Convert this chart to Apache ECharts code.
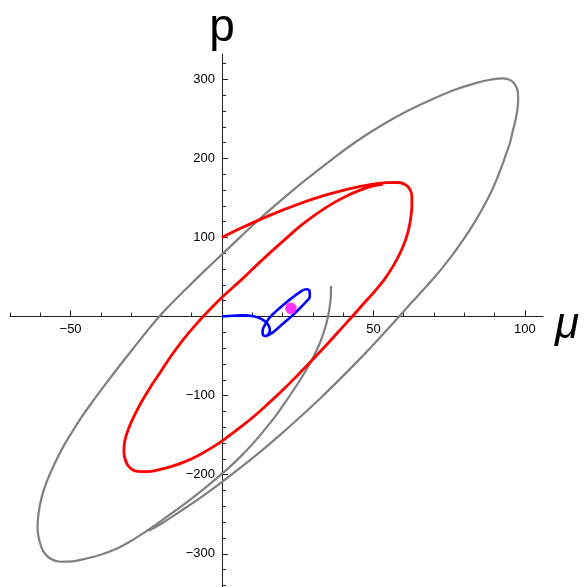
<!DOCTYPE html>
<html>
<head>
<meta charset="utf-8">
<script src="https://cdn.jsdelivr.net/npm/echarts@6/dist/echarts.min.js"></script>
<style>
  html, body { margin: 0; padding: 0; background: #fff; }
  #phaseChart { width: 584px; height: 587px; }
</style>
</head>
<body>
<div id="phaseChart"></div>
<script>
// axis ranges and tick positions / labels
const xMin = -70, xMax = 106;
const yMin = -342, yMax = 332;
const xMajor = [-50, 50, 100];
const xMinor = [-70, -60, -40, -30, -20, -10, 10, 20, 30, 40, 60, 70, 80, 90];
const yMajor = [-300, -200, -100, 100, 200, 300];
const yMinor = [-340, -320, -280, -260, -240, -220, -180, -160, -140, -120, -80, -60, -40, -20,
  20, 40, 60, 80, 120, 140, 160, 180, 220, 240, 260, 280, 320];

// trajectories (mu, p)
const grayCurve = [
  [36.0, 38.5], [35.9, 23.4], [35.4, 8.2], [34.6, -6.9], [33.4, -22.1], [31.9, -37.3], [30.1, -51.8],
  [28.1, -65.7], [25.8, -80.2], [23.2, -95.4], [20.5, -110.5], [17.6, -126.3], [14.3, -142.1],
  [10.7, -158.5], [6.7, -174.9], [2.4, -190.7], [-2.2, -205.9], [-7.2, -221.7], [-12.1, -236.2],
  [-16.4, -248.2], [-20.3, -258.9], [-25.3, -272.2], [-30.2, -284.2], [-35.2, -294.3], [-40.1, -301.2],
  [-45.1, -306.3], [-49.4, -309.5], [-53.3, -310.1], [-56.6, -306.3], [-58.9, -297.5], [-60.2, -284.8],
  [-60.9, -267.1], [-60.6, -249.5], [-59.6, -229.3], [-57.9, -209.0], [-55.6, -188.8], [-53.0, -168.6],
  [-49.7, -147.2], [-46.1, -125.7], [-42.1, -104.2], [-37.8, -82.1], [-33.5, -60.6], [-29.2, -39.8],
  [-25.0, -19.6], [-20.7, 0], [-16.4, 17.7], [-12.1, 34.1], [-6.2, 56.2], [0.1, 78.9], [6.0, 100.4],
  [12.0, 121.9], [19.2, 145.9], [27.5, 172.4], [35.7, 197.0], [44.0, 220.4], [52.2, 240.6],
  [60.4, 258.3], [68.7, 273.5], [76.9, 286.7], [83.5, 294.9], [88.5, 299.4], [92.7, 301.2],
  [95.4, 298.7], [97.0, 291.8], [97.7, 283.5], [97.8, 273.4], [97.5, 260.8], [96.9, 248.2],
  [96.0, 234.3], [95.1, 219.8], [93.8, 205.3], [92.4, 190.1], [90.8, 174.3], [89.0, 158.5],
  [86.8, 142.1], [84.5, 126.3], [82.0, 110.5], [79.2, 94.7], [76.3, 78.9], [73.1, 63.2], [69.8, 48.0],
  [66.4, 33.5], [62.6, 17.7], [58.5, 0], [52.2, -26.4], [45.6, -53.2], [39.0, -78.8], [32.4, -103.6],
  [25.8, -127.1], [19.2, -149.7], [12.6, -171.2], [6.0, -191.5], [-0.6, -210.9], [-7.2, -229.3],
  [-13.8, -246.4], [-20.3, -262.6], [-24.3, -271.0]
];
const redCurve = [
  [0, 100.0], [6.0, 111.2], [12.1, 121.9], [19.2, 133.3], [25.8, 143.0], [34.1, 153.5], [42.3, 161.9],
  [48.9, 166.7], [54.4, 169.3], [58.1, 169.5], [60.6, 166.7], [62.1, 160.4], [62.7, 150.9],
  [62.7, 140.8], [62.4, 126.9], [61.8, 113.0], [60.6, 96.6], [58.8, 80.2], [56.5, 63.8], [53.7, 47.4],
  [50.5, 32.2], [47.1, 17.7], [43.0, 0], [38.3, -19.8], [33.7, -39.2], [29.1, -57.9], [24.5, -76.0],
  [19.9, -93.5], [15.3, -109.9], [10.7, -125.7], [6.0, -140.2], [1.4, -153.5], [-3.2, -165.5],
  [-7.8, -175.6], [-12.4, -183.8], [-17.1, -190.1], [-21.0, -193.9], [-24.6, -196.2], [-27.9, -195.8],
  [-30.2, -192.0], [-31.7, -183.8], [-32.4, -171.1], [-32.1, -157.3], [-30.9, -142.1], [-28.9, -125.0],
  [-26.6, -108.0], [-23.6, -89.0], [-20.3, -70.1], [-16.7, -49.3], [-12.8, -29.1], [-8.5, -9.5],
  [-4.5, 6.9], [0.1, 24.6], [7.0, 48.6], [11.3, 64.4], [15.9, 80.8], [20.9, 97.9], [25.8, 114.3],
  [31.1, 129.5], [36.7, 143.4], [41.0, 152.2], [45.6, 159.8], [49.6, 164.8], [53.2, 167.4]
];
const blueCurve = [
  [0, 0], [3.8, 1.0], [7.1, 1.5], [10.4, 0.3], [12.6, -2.3], [14.5, -6.9], [15.6, -12.9], [15.8, -18.3],
  [15.2, -23.0], [14.2, -24.6], [13.4, -21.7], [13.5, -16.2], [14.3, -10.0], [15.5, -2.5], [17.6, 5.9],
  [20.4, 15.2], [23.1, 23.6], [26.0, 31.6], [27.8, 34.6], [28.9, 32.6], [29.0, 25.5], [27.6, 18.1],
  [25.2, 8.5], [22.5, -1.3], [19.7, -10.5], [17.2, -18.9], [15.6, -23.0], [14.6, -24.6]
];
const fixedPoint = [[22.75, 10.4]];

// layout
const W = 584, H = 587;
const gridLeft = 10, gridRight = 41, gridTop = 54, gridBottom = 0;
const plotW = W - gridLeft - gridRight;
const plotH = H - gridTop - gridBottom;
const xZeroPx = gridLeft + (plotW * (0 - xMin)) / (xMax - xMin);
const yZeroPx = gridTop + (plotH * (yMax - 0)) / (yMax - yMin);

const labelFont = { color: "#000", fontSize: 13, fontFamily: "Liberation Sans" };
const axisColor = "#222";
const minus = (v) => (v < 0 ? "\u2212" + -v : "" + v);

let chart = echarts.init(document.getElementById("phaseChart"));
let option = {
  animation: false,
  backgroundColor: "#fff",
  grid: {
    left: gridLeft, right: gridRight, top: gridTop, bottom: gridBottom,
    containLabel: false, outerBoundsMode: "none",
  },
  xAxis: [
    {
      type: "value",
      min: xMin,
      max: xMax,
      position: "bottom",
      name: "\u03bc",
      nameLocation: "end",
      nameGap: 12,
      nameTextStyle: {
        fontSize: 44, fontStyle: "italic", fontFamily: "Liberation Sans", color: "#000",
        verticalAlign: "top", lineHeight: 18,
      },
      axisLine: { onZero: true, onZeroAxisIndex: 0, lineStyle: { color: axisColor, width: 1 } },
      axisTick: { show: true, inside: true, length: 4, customValues: xMinor, lineStyle: { color: axisColor } },
      axisLabel: { show: false },
      splitLine: { show: false },
    },
    {
      // major ticks + labels, moved onto the zero line
      type: "value",
      min: xMin,
      max: xMax,
      position: "bottom",
      offset: -(H - gridBottom - yZeroPx),
      axisLine: { show: false, onZero: false },
      axisTick: { show: true, inside: true, length: 6, customValues: xMajor, lineStyle: { color: axisColor } },
      axisLabel: { customValues: xMajor, formatter: minus, margin: 6, ...labelFont },
      splitLine: { show: false },
    },
  ],
  yAxis: [
    {
      type: "value",
      min: yMin,
      max: yMax,
      position: "left",
      name: "p",
      nameLocation: "end",
      nameGap: 3,
      nameTextStyle: { fontSize: 46, fontFamily: "Liberation Sans", color: "#000" },
      axisLine: { onZero: true, onZeroAxisIndex: 0, lineStyle: { color: axisColor, width: 1 } },
      axisTick: { show: true, inside: true, length: 4, customValues: yMinor, lineStyle: { color: axisColor } },
      axisLabel: { show: false },
      splitLine: { show: false },
    },
    {
      type: "value",
      min: yMin,
      max: yMax,
      position: "left",
      offset: -(xZeroPx - gridLeft),
      axisLine: { show: false, onZero: false },
      axisTick: { show: true, inside: true, length: 6, customValues: yMajor, lineStyle: { color: axisColor } },
      axisLabel: { customValues: yMajor, formatter: minus, margin: 7, ...labelFont },
      splitLine: { show: false },
    },
  ],
  series: [
    {
      type: "line",
      data: grayCurve,
      smooth: 0.4,
      showSymbol: false,
      lineStyle: { color: "#808080", width: 2.2 },
    },
    {
      type: "line",
      data: redCurve,
      smooth: 0.4,
      showSymbol: false,
      lineStyle: { color: "#ff0000", width: 2.8 },
    },
    {
      type: "line",
      data: blueCurve,
      smooth: 0.4,
      showSymbol: false,
      lineStyle: { color: "#0000ff", width: 2.6 },
    },
    {
      type: "scatter",
      data: fixedPoint,
      symbolSize: 11.5,
      itemStyle: { color: "#ff00ff" },
      z: 5,
    },
  ],
};
chart.setOption(option);
window.addEventListener("resize", () => chart.resize(), true);
</script>
</body>
</html>
